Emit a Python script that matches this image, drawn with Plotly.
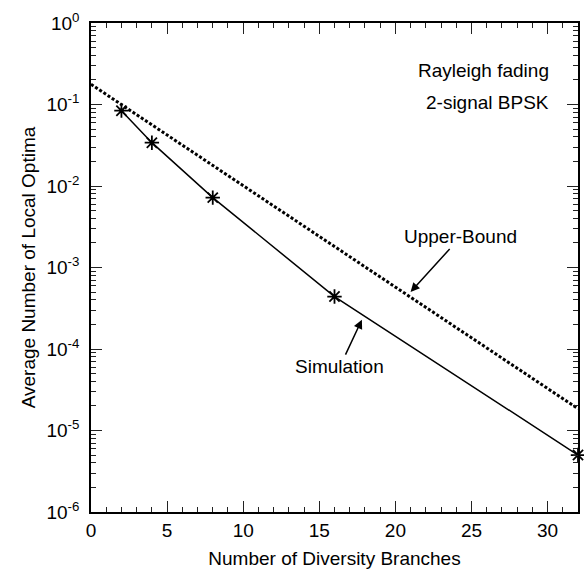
import plotly.graph_objects as go

# Data
sim_x = [2, 4, 8, 16, 32]
sim_y = [0.084, 0.034, 0.0072, 4.4e-4, 5.0e-6]

bound_x = [0, 32]
bound_y = [0.177, 1.85e-5]

y_tickvals = [1e-6, 1e-5, 1e-4, 1e-3, 1e-2, 1e-1, 1e0]
y_ticktext = ["10<sup>-6</sup>", "10<sup>-5</sup>", "10<sup>-4</sup>", "10<sup>-3</sup>",
              "10<sup>-2</sup>", "10<sup>-1</sup>", "10<sup>0</sup>"]

FONT = "Liberation Sans, Arial, sans-serif"
FS = 19

fig = go.Figure()

fig.add_trace(go.Scatter(
    x=bound_x, y=bound_y, mode="lines",
    line=dict(color="black", width=3, dash="3px,2px"),
    showlegend=False, hoverinfo="skip"))

fig.add_trace(go.Scatter(
    x=sim_x, y=sim_y, mode="lines+markers",
    line=dict(color="black", width=1.5),
    marker=dict(symbol="asterisk-open", size=12, color="black",
                line=dict(color="black", width=1.8)),
    cliponaxis=False, showlegend=False, hoverinfo="skip"))

axis_common = dict(
    showline=True, linecolor="black", linewidth=1.5, mirror="ticks",
    ticks="inside", ticklen=11, tickwidth=1, tickcolor="#222",
    showgrid=False, zeroline=False,
    tickfont=dict(family=FONT, size=FS, color="black"),
)

fig.update_xaxes(
    range=[0, 32], dtick=5, tick0=0,
    minor=dict(ticks="inside", ticklen=5, dtick=1, tickcolor="#222", showgrid=False),
    title=dict(text="Number of Diversity Branches", font=dict(family=FONT, size=FS, color="black"),
               standoff=12),
    **axis_common)

fig.update_yaxes(
    type="log", range=[-6, 0],
    tickmode="array", tickvals=y_tickvals, ticktext=y_ticktext,
    minor=dict(ticks="inside", ticklen=5, dtick="D1", tickcolor="#222", showgrid=False),
    ticklabelstandoff=6,
    title=dict(text="Average Number of Local Optima", font=dict(family=FONT, size=FS, color="black"),
               standoff=6),
    **axis_common)

ann_font = dict(family=FONT, size=FS, color="black")
fig.add_annotation(x=30.2, y=-0.577, xref="x", yref="y", text="Rayleigh fading",
                   showarrow=False, xanchor="right", yanchor="middle", font=ann_font)
fig.add_annotation(x=30.2, y=-0.98, xref="x", yref="y", text="2-signal BPSK",
                   showarrow=False, xanchor="right", yanchor="middle", font=ann_font)
fig.add_annotation(x=21.0, y=-3.30, xref="x", yref="y", text="Upper-Bound",
                   showarrow=True, ax=50, ay=-55, arrowhead=2, arrowsize=1.2, arrowwidth=1.5,
                   arrowcolor="black", font=ann_font)
fig.add_annotation(x=17.8, y=-3.64, xref="x", yref="y", text="Simulation",
                   showarrow=True, ax=-22, ay=47, arrowhead=2, arrowsize=1.2, arrowwidth=1.5,
                   arrowcolor="black", font=ann_font)

fig.update_layout(
    width=584, height=572,
    margin=dict(l=91, r=4, t=23, b=60),
    paper_bgcolor="white", plot_bgcolor="white",
    font=dict(family=FONT, size=FS, color="black"),
)

fig.write_html("out.html")
